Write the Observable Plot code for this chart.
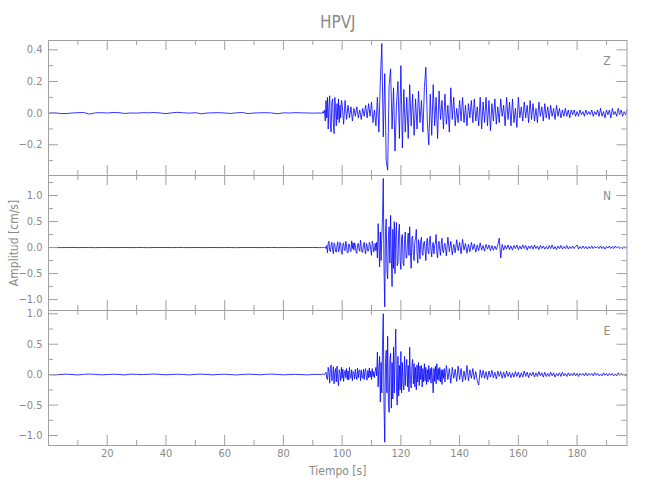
<!DOCTYPE html>
<html>
<head>
<meta charset="utf-8">
<script src="https://cdn.jsdelivr.net/npm/d3@7"></script>
<script src="https://cdn.jsdelivr.net/npm/@observablehq/plot@0.6"></script>
<style>
  body { margin: 0; background: #fff; }
  #chart { width: 650px; height: 500px; background: #fff; }
  #chart svg { display: block; }
</style>
</head>
<body>
<div id="chart"></div>
<script>
// ---------- text ----------
const title = "HPVJ";
const xLabel = "Tiempo [s]";
const yLabel = "Amplitud [cm/s]";
const components = ["Z", "N", "E"];

// ---------- axes ----------
const xDomain = [0, 197];
const xMajor = [20, 40, 60, 80, 100, 120, 140, 160, 180];
const xMinor = [10, 30, 50, 70, 90, 110, 130, 150, 170, 190];
const zDomain = [-0.394, 0.459];
const zMajor = [-0.2, 0.0, 0.2, 0.4];
const zMinor = [-0.3, -0.1, 0.1, 0.3];
const nDomain = [-1.21, 1.385];
const nMajor = [-1.0, -0.5, 0.0, 0.5, 1.0];
const nMinor = [-0.75, -0.25, 0.25, 0.75, 1.25];
const eDomain = [-1.164, 1.054];
const eMajor = [-1.0, -0.5, 0.0, 0.5, 1.0];
const eMinor = [-0.75, -0.25, 0.25, 0.75];

// ---------- sampling of the values ----------
// [start time (s), step (s)] of each stretch
const quietSpan = [0, 2];      // 0 .. 92 s
const denseSpan = [93, 0.25];  // 93 .. ~135 s (N, E), 93 .. 99.75 s (Z)
const zTailSpan = [100, 0.5];  // 100 .. 197 s
const tailSpan = [135, 0.5];   // 135 .. 197 s

// ---------- Z component ----------
const zQuiet = [0.000,0.002,-0.002,-0.003,0.001,0.003,0.004,-0.006,0.002,0.003,0.001,0.004,0.003,-0.002,0.001,0.000,0.003,0.002,0.004,0.001,-0.003,0.002,0.005,0.002,0.000,0.003,-0.004,0.001,0.002,0.003,0.001,-0.002,0.002,0.004,-0.003,0.001,0.002,0.003,0.001,-0.004,0.002,0.001,0.003,0.002,0.001,0.000,0.001];
const zDense = [
0.00,0.00,0.01,0.00, 0.02,-0.05,0.08,-0.03, 0.10,-0.10,0.04,0.11, -0.08,-0.12,0.07,0.09,
-0.06,-0.13,0.10,0.03, -0.08,0.06,-0.04,0.09, -0.06,0.05,-0.03,0.08];
const zTail = [
0.06,-0.07,0.08,-0.04,0.05,-0.03,0.04,-0.05,0.03,-0.02,0.04,-0.03,0.02,-0.04,0.03,-0.02,
0.05,-0.03,0.06,-0.02,0.07,-0.06,0.02,-0.08,0.10,-0.12,0.20,0.44,-0.15,0.25,-0.30,-0.36,
0.18,0.28,-0.10,0.16,-0.24,0.05,0.20,-0.16,0.30,-0.22,0.15,-0.12,0.10,-0.16,0.18,-0.08,
0.12,-0.14,0.09,-0.10,0.14,-0.06,0.08,-0.12,0.16,0.29,-0.05,-0.20,0.12,-0.14,0.18,-0.08,
0.10,-0.16,0.14,-0.04,0.08,-0.10,0.12,-0.07,0.05,-0.12,0.16,-0.04,0.10,-0.08,0.03,-0.06,
0.08,-0.05,0.10,-0.06,0.05,-0.08,0.06,-0.03,0.08,-0.06,0.09,-0.05,0.04,-0.08,0.10,-0.10,
0.07,-0.06,0.10,-0.08,0.08,-0.11,0.06,-0.05,0.09,-0.07,0.04,-0.06,0.09,-0.02,0.05,-0.08,
0.10,-0.04,0.07,-0.08,0.09,-0.06,0.03,-0.09,0.10,-0.03,0.04,-0.05,0.07,-0.03,0.05,-0.06,
0.08,-0.04,0.06,-0.05,0.03,-0.06,0.07,-0.02,0.04,-0.05,0.06,-0.03,0.04,-0.04,0.05,-0.02,
0.03,-0.04,0.05,-0.02,0.03,-0.03,0.02,-0.02,0.03,-0.02,0.02,-0.03,0.02,-0.01,0.02,-0.02,
0.01,-0.02,0.02,-0.01,0.01,-0.02,0.02,-0.01,0.01,-0.01,0.02,-0.02,0.01,-0.01,0.02,-0.02,
0.03,-0.02,0.01,-0.03,0.02,-0.01,0.02,-0.03,0.03,-0.01,0.01,-0.02,0.03,-0.01,0.02,-0.02,
0.01,-0.01,0.02];

// ---------- N component ----------
const nQuiet = [0.000,0.001,-0.001,0.000,0.002,-0.001,0.001,0.000,-0.002,0.001,0.001,-0.001,0.000,0.002,-0.001,0.000,0.001,-0.002,0.001,0.000,0.001,-0.001,0.002,0.000,-0.001,0.001,0.000,-0.001,0.002,-0.001,0.000,0.001,-0.002,0.001,0.000,0.001,-0.001,0.000,0.002,-0.001,0.001,0.000,-0.001,0.001,0.000,0.002,-0.001];
const nDense = [
0.00,0.00,0.01,0.00, 0.00,0.01,-0.02,0.04, -0.10,0.08,0.12,-0.06, -0.08,0.05,0.10,-0.04,
-0.12,0.09,0.06,-0.07, -0.09,0.04,0.11,-0.08, -0.05,0.10,0.08,-0.11, -0.13,0.06,0.09,-0.04,
-0.06,0.12,0.03,-0.10, -0.10,0.07,0.05,-0.06, -0.08,0.13,-0.02,0.09, -0.05,0.09,0.04,-0.09,
-0.11,0.06,0.08,-0.03, -0.07,0.14,0.02,-0.09, -0.09,0.05,0.10,-0.04, -0.12,0.08,0.03,-0.07,
-0.06,0.10,0.06,-0.05, -0.15,0.12,0.07,-0.08, -0.04,0.08,-0.06,0.10, -0.20,0.46,0.10,-0.37,
0.30,-0.25,0.20,0.60, 1.33,-0.40,-1.14,0.30, 0.55,-0.45,-0.60,0.20, 0.40,-0.30,0.62,-0.20,
-0.75,0.35,-0.40,0.50, -0.50,0.25,0.48,-0.35, -0.30,0.30,0.45,-0.25, -0.42,0.20,0.25,-0.30,
-0.35,0.15,0.30,-0.20, -0.20,0.10,0.28,-0.15, 0.40,-0.10,-0.40,0.20, 0.22,-0.15,-0.25,0.10,
0.18,0.35,-0.10,-0.30, 0.15,0.05,-0.22,0.12, 0.20,-0.10,-0.15,0.08, 0.12,-0.05,-0.25,0.10,
0.18,-0.08,-0.12,0.15, 0.22,-0.06,-0.18,0.05, 0.10,-0.12,0.04,0.08, 0.25,-0.10,-0.20,0.06,
0.12,-0.05,-0.15,0.08, 0.18,-0.06,-0.10,0.04];
const nTail = [
0.08,-0.16,0.20,-0.08,0.12,-0.14,0.06,-0.10,0.15,-0.06,
0.10,-0.12,0.16,-0.05,0.08,-0.11,0.06,-0.08,0.10,-0.04,0.07,-0.09,0.05,-0.06,0.09,-0.05,
0.04,-0.07,0.06,-0.03,0.05,-0.06,0.04,-0.05,0.03,-0.04,0.05,0.18,-0.20,0.06,-0.05,0.04,
-0.03,0.05,-0.04,0.03,-0.05,0.04,-0.02,0.05,-0.04,0.03,-0.03,0.05,-0.02,0.04,-0.05,0.03,
-0.02,0.04,-0.03,0.05,-0.02,0.03,-0.04,0.04,-0.02,0.03,-0.03,0.02,-0.03,0.04,-0.02,0.05,
-0.03,0.02,-0.04,0.03,-0.02,0.04,-0.03,0.02,-0.02,0.04,-0.03,0.02,-0.02,0.03,-0.02,0.02,
0.05,-0.03,0.02,-0.02,0.03,-0.02,0.02,-0.03,0.02,-0.02,0.03,-0.02,0.02,-0.01,0.02,-0.02,
0.03,-0.02,0.02,-0.03,0.02,-0.01,0.03,-0.02,0.02,-0.02,0.03,-0.01,0.02,-0.02,0.01,-0.02,
0.02,-0.01,0.01];

// ---------- E component ----------
const eQuiet = [0.000,-0.004,0.003,0.008,0.002,-0.005,0.006,0.010,0.004,-0.003,0.002,0.007,0.003,-0.004,0.008,0.005,0.000,0.006,0.010,0.004,-0.002,0.003,0.008,0.002,-0.004,0.005,0.009,0.003,-0.003,0.004,0.007,0.001,-0.005,0.003,0.008,0.004,-0.002,0.006,0.009,0.003,-0.003,0.002,0.006,0.001,-0.004,0.003,0.005];
const eDense = [
0.00,0.01,0.00,0.01, 0.00,0.02,0.04,-0.06, -0.08,0.12,0.05,-0.14, 0.10,0.16,-0.10,-0.05,
0.13,-0.15,0.04,0.10, -0.12,0.14,-0.06,-0.18, 0.08,0.03,-0.10,0.12, -0.06,0.09,-0.11,0.02,
0.07,-0.05,0.10,-0.08, 0.06,-0.09,0.12,-0.03, -0.06,0.08,-0.10,0.05, 0.04,-0.07,0.09,-0.02,
-0.08,0.11,-0.05,0.06, 0.08,-0.10,0.07,-0.04, -0.06,0.09,-0.08,0.05, 0.10,-0.06,-0.09,0.07,
-0.05,0.11,-0.04,0.06, -0.08,0.10,-0.03,0.05, -0.05,0.06,0.12,-0.02, 0.37,-0.20,0.10,0.30,
-0.45,0.20,-0.30,0.50, 1.00,-0.50,-1.11,0.20, 0.40,-0.30,0.63,-0.43, -0.62,0.25,0.35,-0.55,
0.20,-0.40,0.45,-0.30, 0.30,0.75,-0.20,-0.50, 0.30,-0.35,0.15,-0.25, 0.38,-0.30,0.20,-0.15,
-0.25,0.30,-0.18,0.10, 0.25,-0.20,0.15,-0.28, 0.45,-0.10,-0.22,0.15, 0.25,-0.15,0.18,-0.20,
0.12,-0.25,0.16,-0.12, 0.20,-0.18,0.14,-0.08, 0.15,-0.20,0.10,-0.12, 0.18,-0.10,0.12,-0.16,
0.08,-0.12,0.15,-0.08, 0.10,-0.14,0.12,-0.06, -0.30,0.10,-0.11,0.14, -0.15,0.18,-0.08,0.10,
-0.10,0.12,-0.12,0.08, -0.16,0.08,-0.06,0.10];
const eTail = [
-0.12,0.15,-0.08,0.10,-0.14,0.12,-0.06,0.09,-0.11,0.14,
-0.08,0.10,-0.12,0.06,-0.09,0.15,-0.10,0.08,-0.06,0.10,-0.08,0.05,-0.10,-0.17,0.08,-0.05,
0.07,-0.06,0.05,-0.08,0.06,-0.04,0.07,-0.05,0.04,-0.07,0.06,-0.03,0.05,-0.06,0.04,-0.05,
0.06,-0.03,0.04,-0.05,0.03,-0.04,0.05,-0.03,0.04,-0.05,0.03,-0.04,0.06,-0.03,0.04,-0.05,
0.03,-0.02,0.04,-0.04,0.03,-0.03,0.05,-0.02,0.03,-0.04,0.04,-0.03,0.02,-0.03,0.04,-0.02,
0.03,-0.04,0.02,-0.02,0.03,-0.03,0.04,-0.02,0.02,-0.03,0.03,-0.02,0.02,-0.02,0.03,-0.02,
0.02,-0.03,0.02,-0.01,0.02,-0.02,0.03,-0.02,0.02,-0.01,0.02,-0.02,0.03,-0.01,0.02,-0.02,
0.01,-0.02,0.03,-0.01,0.02,-0.02,0.02,-0.01,0.02,-0.02,0.01,-0.02,0.03,-0.01,0.02,-0.01,
0.01,-0.02,0.00];

// ---------- build tables ----------
function series(...parts) {
  const rows = [];
  for (const [[t0, dt], values] of parts) {
    values.forEach((v, i) => rows.push({t: t0 + i * dt, v}));
  }
  return rows;
}

const FONT = "'Liberation Sans Narrow', 'DejaVu Sans Condensed', 'Liberation Sans', sans-serif";
const AXIS = "#a0a0a0";
const TEXT = "#8a8a8a";
const LINE = "#0000ff";
const ML = 48, MR = 23.5, W = 650 - ML - MR, H = 135;
const fmt = d3.format(".1f");

function panel({rows, domain, major, minor, name, top, bottom, extra}) {
  return Plot.plot({
    width: 650,
    height: top + H + bottom,
    marginTop: top, marginBottom: bottom, marginLeft: ML, marginRight: MR,
    x: {domain: xDomain, axis: null},
    y: {domain, axis: null},
    style: {fontFamily: FONT, fontSize: "11px", color: TEXT, background: "transparent", overflow: "visible"},
    marks: [
      Plot.line(rows, {x: "t", y: "v", stroke: LINE, strokeWidth: 0.8}),
      Plot.frame({stroke: AXIS}),
      Plot.tickX(xMajor, {x: d => d, stroke: AXIS, insetTop: H - 10}),
      Plot.tickX(xMajor, {x: d => d, stroke: AXIS, insetBottom: H - 10}),
      Plot.tickX(xMinor, {x: d => d, stroke: AXIS, insetTop: H - 5}),
      Plot.tickX(xMinor, {x: d => d, stroke: AXIS, insetBottom: H - 5}),
      Plot.tickY(major, {y: d => d, stroke: AXIS, insetRight: W - 10}),
      Plot.tickY(major, {y: d => d, stroke: AXIS, insetLeft: W - 10}),
      Plot.tickY(minor, {y: d => d, stroke: AXIS, insetRight: W - 5}),
      Plot.tickY(minor, {y: d => d, stroke: AXIS, insetLeft: W - 5}),
      Plot.axisY(major, {tickSize: 0, tickPadding: 6, tickFormat: fmt, label: null, fill: TEXT}),
      Plot.text([name], {frameAnchor: "top-right", dx: -20, dy: 21, textAnchor: "middle", lineAnchor: "middle", fill: TEXT, fontSize: 12}),
      ...extra
    ]
  });
}

const chart = document.getElementById("chart");
chart.append(panel({
  rows: series([quietSpan, zQuiet], [denseSpan, zDense], [zTailSpan, zTail]),
  domain: zDomain, major: zMajor, minor: zMinor,
  name: components[0], top: 40, bottom: 0,
  extra: [Plot.text([title], {frameAnchor: "top", dy: -18, textAnchor: "middle", lineAnchor: "middle", fill: TEXT, fontSize: 17})]
}));
chart.append(panel({
  rows: series([quietSpan, nQuiet], [denseSpan, nDense], [tailSpan, nTail]),
  domain: nDomain, major: nMajor, minor: nMinor,
  name: components[1], top: 0, bottom: 0,
  extra: [Plot.text([yLabel], {frameAnchor: "left", dx: -34, rotate: -90, textAnchor: "middle", lineAnchor: "middle", fill: TEXT, fontSize: 12})]
}));
chart.append(panel({
  rows: series([quietSpan, eQuiet], [denseSpan, eDense], [tailSpan, eTail]),
  domain: eDomain, major: eMajor, minor: eMinor,
  name: components[2], top: 0, bottom: 55,
  extra: [
    Plot.axisX(xMajor, {tickSize: 0, tickPadding: 4, label: null, fill: TEXT}),
    Plot.text([xLabel], {frameAnchor: "bottom", dy: 26, textAnchor: "middle", lineAnchor: "middle", fill: TEXT, fontSize: 12})
  ]
}));
</script>
</body>
</html>
